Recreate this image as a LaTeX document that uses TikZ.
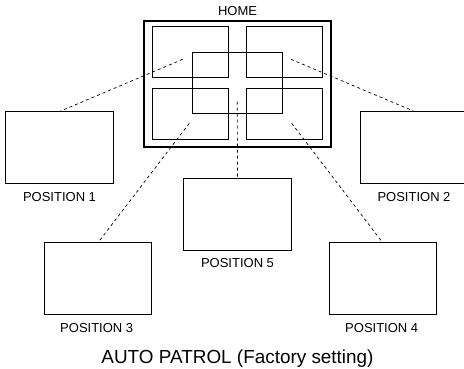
\documentclass[tikz,border=0pt]{standalone}
\usepackage{fontspec}
\setmainfont{Liberation Sans}
\begin{document}
\begin{tikzpicture}[x=1pt,y=-1pt,
  frame/.style={draw=black,line width=1.2pt,inner sep=0pt,outer sep=0pt,rectangle},
  posbox/.style={frame,minimum width=107.5pt,minimum height=72pt},
  quad/.style={frame,line width=1pt,minimum width=76.4pt,minimum height=51.3pt},
  link/.style={draw=black,line width=0.7pt,dash pattern=on 3pt off 3pt},
  lbl/.style={font=\fontsize{13}{13}\selectfont,inner sep=0pt,anchor=base},
  ttl/.style={font=\fontsize{18.9}{19}\selectfont,inner sep=0pt,anchor=base}]
\useasboundingbox (0,0) rectangle (464,368);
\clip (0,0) rectangle (464,368);
% HOME frame
\node[frame,minimum width=187pt,minimum height=126pt] (home) at (237.5,84) {};
\node[quad] (tl) at (190.5,51.85) {};
\node[quad] (tr) at (284.35,51.85) {};
\node[quad] (bl) at (190.5,113.8) {};
\node[quad] (br) at (284.35,113.8) {};
\node[frame,line width=1pt,minimum width=90pt,minimum height=60.6pt] (ctr) at (237.7,83) {};
\node[lbl] (homelbl) at (237.5,15.5) {HOME};
% position boxes
\node[posbox] (p1) at (59.5,147.5) {};
\node[posbox] (p2) at (414.5,147.5) {};
\node[posbox] (p3) at (97.85,278.85) {};
\node[posbox] (p4) at (382.85,278.85) {};
\node[posbox] (p5) at (237.5,214.65) {};
% labels
\node[lbl] (l1) at (59.5,201) {POSITION 1};
\node[lbl] (l2) at (414,201) {POSITION 2};
\node[lbl] (l3) at (96.7,332) {POSITION 3};
\node[lbl] (l4) at (381.7,332) {POSITION 4};
\node[lbl] (l5) at (237.5,267) {POSITION 5};
\node[ttl] (title) at (237.5,363) {AUTO PATROL (Factory setting)};
% connector start points
\coordinate (s1) at (182.7,59.3);
\coordinate (s2) at (291,59.3);
\coordinate (s3) at (189.3,123.3);
\coordinate (s4) at (291.7,123.3);
\coordinate (s5) at (237.3,101.7);
\draw[link] (s1) -- (p1.north);
\draw[link] (s2) -- (p2.north);
\draw[link] (s3) -- (p3.north);
\draw[link] (s4) -- (p4.north);
\draw[link] (s5) -- (p5.north);
\end{tikzpicture}
\end{document}
